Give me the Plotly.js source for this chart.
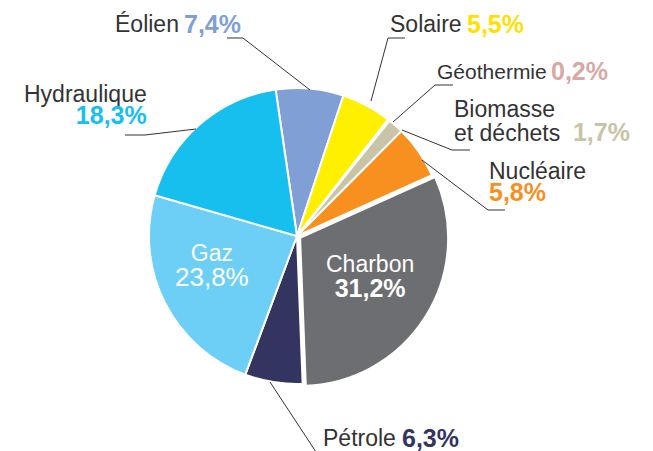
<!DOCTYPE html>
<html>
<head>
<meta charset="utf-8">
<script src="https://cdn.plot.ly/plotly-3.0.1.min.js"></script>
<style>html,body{margin:0;padding:0;background:#fff;}#chart{width:653px;height:451px;}</style>
</head>
<body>
<div id="chart"></div>
<script>
// Data
var categories = ["Éolien", "Solaire", "Géothermie", "Biomasse et déchets", "Nucléaire", "Charbon", "Pétrole", "Gaz", "Hydraulique"];
var shares = [7.4, 5.5, 0.2, 1.7, 5.8, 31.2, 6.3, 23.8, 18.3];
var shareLabels = ["7,4%", "5,5%", "0,2%", "1,7%", "5,8%", "31,2%", "6,3%", "23,8%", "18,3%"];

var sliceColors = ["#7f9fd5", "#fff000", "#d9a7a4", "#c9c3a7", "#f7901e", "#6d6e71", "#33345f", "#6dcff6", "#17bfef"];
var pctColors = ["#7f9fd5", "#ffe100", "#d9a7a4", "#c9c3a7", "#f7901e", "#ffffff", "#33345f", "#ffffff", "#17bfef"];
var pulls = [0, 0, 0, 0, 0, 0.025, 0, 0, 0];

var W = 653, H = 451;
function X(x){ return x / W; }
function Y(y){ return 1 - y / H; }
function path(pts){
  return pts.map(function(p, i){ return (i ? 'L' : 'M') + X(p[0]) + ',' + Y(p[1]); }).join(' ');
}

var FAM = "Liberation Sans, Arial, sans-serif";
var nameFont = {family: FAM, size: 23, color: "#333333"};
function pctFont(i, sz){ return {family: FAM, size: sz || 25, weight: 'bold', color: pctColors[i]}; }
function nm(t, sz, c){ return '<span style="font-size:' + (sz || 23) + 'px;fill:' + (c || '#333333') + '">' + t + '</span>'; }
function pc(i, sz, bold){
  var t = '<span style="font-size:' + (sz || 25) + 'px;fill:' + pctColors[i] + '">' + shareLabels[i] + '</span>';
  return bold === false ? t : '<b>' + t + '</b>';
}

function ann(text, x, y, font, xanchor, align){
  return {text: text, x: X(x), y: Y(y), xref: 'paper', yref: 'paper', showarrow: false,
          xanchor: xanchor || 'left', yanchor: 'middle', align: align || xanchor || 'left', font: font};
}
// base font size of stacked labels sets the line spacing (1.3 x size)
function stackFont(sz, c){ return {family: FAM, size: sz, color: c || '#333333'}; }

var annotations = [
  ann(categories[0], 113, 24, nameFont),
  ann("<b>" + shareLabels[0] + "</b>", 182, 24, pctFont(0)),
  ann(categories[1], 388, 24, nameFont),
  ann("<b>" + shareLabels[1] + "</b>", 465, 24, pctFont(1)),
  ann(categories[2], 435, 71, {family: FAM, size: 21, color: "#333333"}),
  ann("<b>" + shareLabels[2] + "</b>", 549, 71, pctFont(2)),
  ann(nm("Biomasse") + "<br>" + nm("et déchets&nbsp; ") + pc(3), 452, 121, stackFont(18.5), 'left'),
  ann(nm(categories[4]) + "<br>" + pc(4), 487, 182, stackFont(17), 'left'),
  ann(nm(categories[8]) + "<br>" + pc(8), 149, 105, stackFont(17), 'right'),
  ann(categories[6], 321, 438, nameFont),
  ann("<b>" + shareLabels[6] + "</b>", 400, 438, pctFont(6)),
  ann(nm(categories[7], 23, '#ffffff') + "<br>" + pc(7, 26, false), 212, 266, stackFont(19, '#ffffff'), 'center'),
  ann(nm(categories[5], 23, '#ffffff') + "<br>" + pc(5), 370, 276, stackFont(19, '#ffffff'), 'center')
];

var lineStyle = {color: "#333333", width: 1};
function leader(pts){ return {type: 'path', xref: 'paper', yref: 'paper', path: path(pts), line: lineStyle}; }
var shapes = [
  leader([[227, 38], [243, 38], [310, 90]]),
  leader([[405, 38], [388, 38], [371, 101]]),
  leader([[453, 85], [435, 85], [393, 122]]),
  leader([[470, 150], [452, 150], [402, 130]]),
  leader([[505, 210], [488, 210], [422, 160]]),
  leader([[125, 135], [145, 135], [196, 129]]),
  leader([[270, 382], [316, 452]])
];

var trace = {
  type: 'pie',
  labels: categories,
  values: shares,
  sort: false,
  direction: 'clockwise',
  rotation: -8.3,
  pull: pulls,
  marker: {colors: sliceColors, line: {color: '#ffffff', width: 2}},
  textinfo: 'none',
  hoverinfo: 'label+percent',
  showlegend: false,
  domain: {x: [0.1548, 0.7548], y: [0.1403, 0.8131]}
};

var layout = {
  width: W, height: H,
  margin: {l: 0, r: 0, t: 0, b: 0},
  paper_bgcolor: '#ffffff',
  showlegend: false,
  annotations: annotations,
  shapes: shapes
};

Plotly.newPlot('chart', [trace], layout, {displayModeBar: false, staticPlot: true});
</script>
</body>
</html>
